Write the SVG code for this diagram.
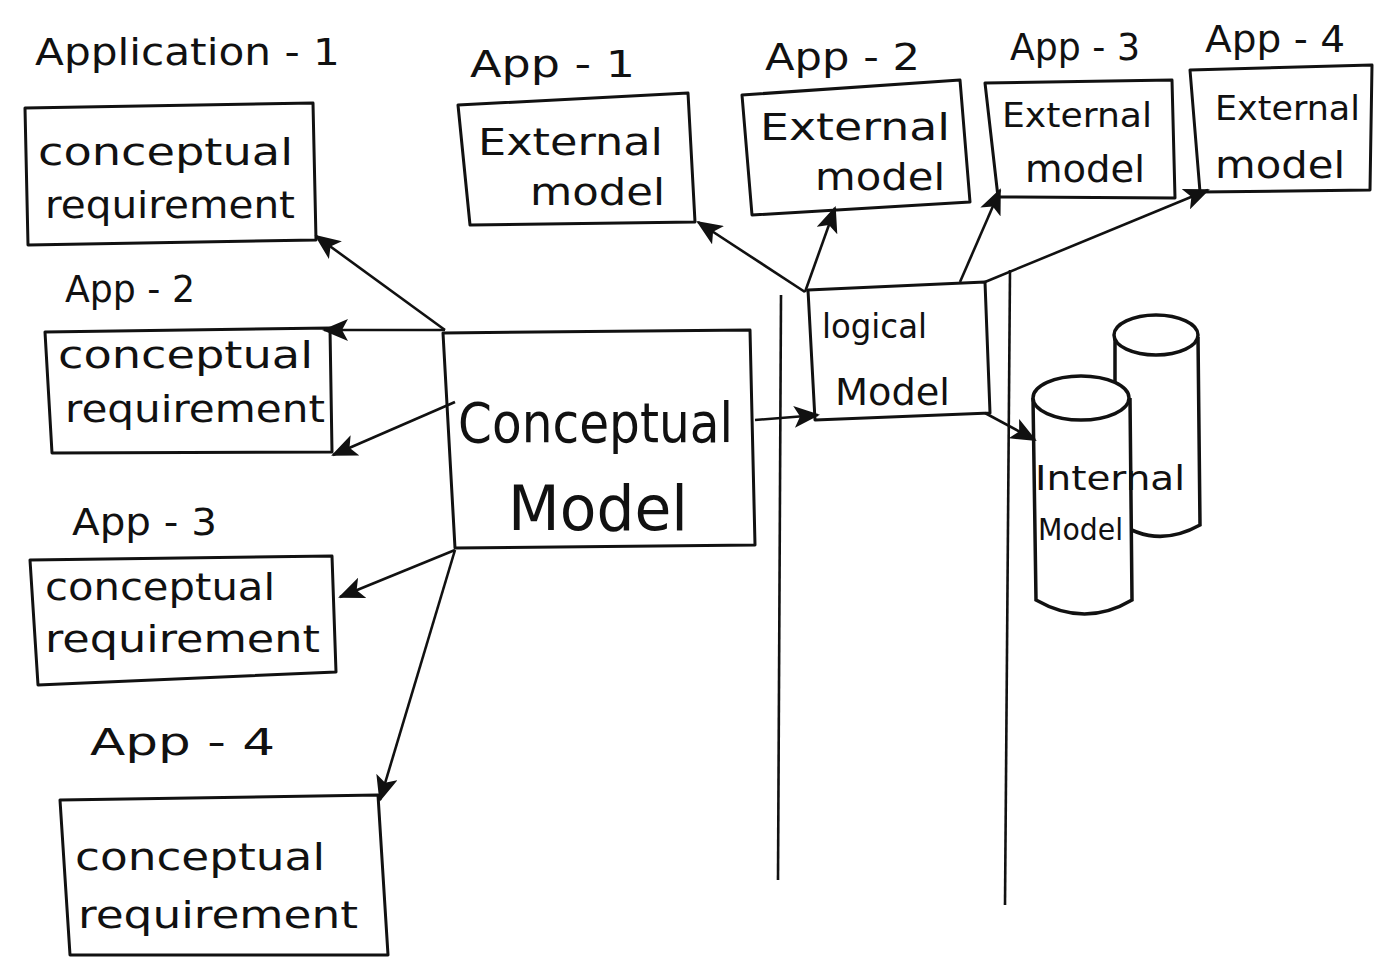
<svg xmlns="http://www.w3.org/2000/svg" width="1382" height="967" viewBox="0 0 1382 967">
<defs>
<style>
.box{fill:none;stroke:#111;stroke-width:3;stroke-linejoin:round}
.cyl{fill:#fff;stroke:#111;stroke-width:3.5}
.ln{fill:none;stroke:#111;stroke-width:2.6}
.t{font-family:"DejaVu Sans","Liberation Sans",sans-serif;fill:#111}
.s38{font-size:38px}
.s34{font-size:34px}
</style>
<marker id="ah" markerUnits="userSpaceOnUse" markerWidth="26" markerHeight="22" refX="24" refY="11" orient="auto">
<path d="M0,0 L26,11 L0,22 L6,11 Z" fill="#111"/>
</marker>
</defs>
<rect width="1382" height="967" fill="#fff"/>

<g id="app1-conceptual">
<text class="t s38" x="35" y="65" textLength="305" lengthAdjust="spacingAndGlyphs">Application - 1</text>
<path class="box" d="M25,108 L313,103 L316,240 L28,245 Z"/>
<text class="t s38" x="38" y="165" textLength="255" lengthAdjust="spacingAndGlyphs">conceptual</text>
<text class="t s38" x="45" y="218" textLength="250" lengthAdjust="spacingAndGlyphs">requirement</text>
</g>

<g id="app2-conceptual">
<text class="t s38" x="65" y="302" textLength="130" lengthAdjust="spacingAndGlyphs">App - 2</text>
<path class="box" d="M45,332 L330,328 L332,452 L52,453 Z"/>
<text class="t s38" x="58" y="368" textLength="255" lengthAdjust="spacingAndGlyphs">conceptual</text>
<text class="t s38" x="65" y="422" textLength="260" lengthAdjust="spacingAndGlyphs">requirement</text>
</g>

<g id="app3-conceptual">
<text class="t s38" x="72" y="535" textLength="145" lengthAdjust="spacingAndGlyphs">App - 3</text>
<path class="box" d="M30,560 L332,556 L336,672 L38,685 Z"/>
<text class="t s38" x="45" y="600" textLength="230" lengthAdjust="spacingAndGlyphs">conceptual</text>
<text class="t s38" x="45" y="652" textLength="275" lengthAdjust="spacingAndGlyphs">requirement</text>
</g>

<g id="app4-conceptual">
<text class="t s38" x="90" y="755" textLength="185" lengthAdjust="spacingAndGlyphs">App - 4</text>
<path class="box" d="M60,800 L378,795 L388,955 L70,955 Z"/>
<text class="t s38" x="75" y="870" textLength="250" lengthAdjust="spacingAndGlyphs">conceptual</text>
<text class="t s38" x="78" y="928" textLength="280" lengthAdjust="spacingAndGlyphs">requirement</text>
</g>

<g id="conceptual-model">
<path class="box" d="M443,333 L750,330 L755,545 L455,548 Z"/>
<text class="t" font-size="56" x="458" y="442" textLength="275" lengthAdjust="spacingAndGlyphs">Conceptual</text>
<text class="t" font-size="62" x="508" y="530" textLength="180" lengthAdjust="spacingAndGlyphs">Model</text>
</g>

<g id="logical-model">
<path class="box" d="M808,290 L985,282 L990,413 L815,420 Z"/>
<text class="t s34" x="822" y="338" textLength="105" lengthAdjust="spacingAndGlyphs">logical</text>
<text class="t s38" x="835" y="405" textLength="115" lengthAdjust="spacingAndGlyphs">Model</text>
</g>

<g id="app1-external">
<text class="t s38" x="470" y="77" textLength="165" lengthAdjust="spacingAndGlyphs">App - 1</text>
<path class="box" d="M458,105 L688,93 L695,222 L470,225 Z"/>
<text class="t s38" x="478" y="155" textLength="185" lengthAdjust="spacingAndGlyphs">External</text>
<text class="t s38" x="530" y="205" textLength="135" lengthAdjust="spacingAndGlyphs">model</text>
</g>

<g id="app2-external">
<text class="t s38" x="765" y="70" textLength="155" lengthAdjust="spacingAndGlyphs">App - 2</text>
<path class="box" d="M742,95 L960,80 L970,202 L752,215 Z"/>
<text class="t s38" x="760" y="140" textLength="190" lengthAdjust="spacingAndGlyphs">External</text>
<text class="t s38" x="815" y="190" textLength="130" lengthAdjust="spacingAndGlyphs">model</text>
</g>

<g id="app3-external">
<text class="t s38" x="1010" y="60" textLength="130" lengthAdjust="spacingAndGlyphs">App - 3</text>
<path class="box" d="M985,83 L1172,80 L1175,198 L998,197 Z"/>
<text class="t s34" x="1002" y="127" textLength="150" lengthAdjust="spacingAndGlyphs">External</text>
<text class="t s38" x="1025" y="182" textLength="120" lengthAdjust="spacingAndGlyphs">model</text>
</g>

<g id="app4-external">
<text class="t s38" x="1205" y="52" textLength="140" lengthAdjust="spacingAndGlyphs">App - 4</text>
<path class="box" d="M1190,70 L1372,65 L1370,190 L1200,192 Z"/>
<text class="t s34" x="1215" y="120" textLength="145" lengthAdjust="spacingAndGlyphs">External</text>
<text class="t s38" x="1215" y="178" textLength="130" lengthAdjust="spacingAndGlyphs">model</text>
</g>

<g id="internal-model">
<path class="cyl" d="M1115,337 L1115,520 Q1155,550 1200,525 L1198,337"/>
<ellipse class="cyl" cx="1156" cy="335" rx="42" ry="20"/>
<path class="cyl" d="M1033,398 L1036,600 Q1085,628 1132,600 L1130,398"/>
<ellipse class="cyl" cx="1081" cy="398" rx="48" ry="22"/>
<text class="t s34" x="1035" y="490" textLength="150" lengthAdjust="spacingAndGlyphs">Internal</text>
<text class="t" font-size="30" x="1038" y="540" textLength="85" lengthAdjust="spacingAndGlyphs">Model</text>
</g>

<g id="connectors">
<path class="ln" d="M781,295 L778,880"/>
<path class="ln" d="M1010,270 L1005,905"/>
<path class="ln" marker-end="url(#ah)" d="M445,330 L316,236"/>
<path class="ln" marker-end="url(#ah)" d="M445,330 L324,330"/>
<path class="ln" marker-end="url(#ah)" d="M455,402 L333,455"/>
<path class="ln" marker-end="url(#ah)" d="M455,550 L340,597"/>
<path class="ln" marker-end="url(#ah)" d="M455,550 L380,800"/>
<path class="ln" marker-end="url(#ah)" d="M755,420 L818,415"/>
<path class="ln" marker-end="url(#ah)" d="M805,292 L698,222"/>
<path class="ln" marker-end="url(#ah)" d="M805,292 L835,208"/>
<path class="ln" marker-end="url(#ah)" d="M960,282 L1000,190"/>
<path class="ln" marker-end="url(#ah)" d="M985,282 L1208,190"/>
<path class="ln" marker-end="url(#ah)" d="M985,413 L1035,440"/>
</g>
</svg>
